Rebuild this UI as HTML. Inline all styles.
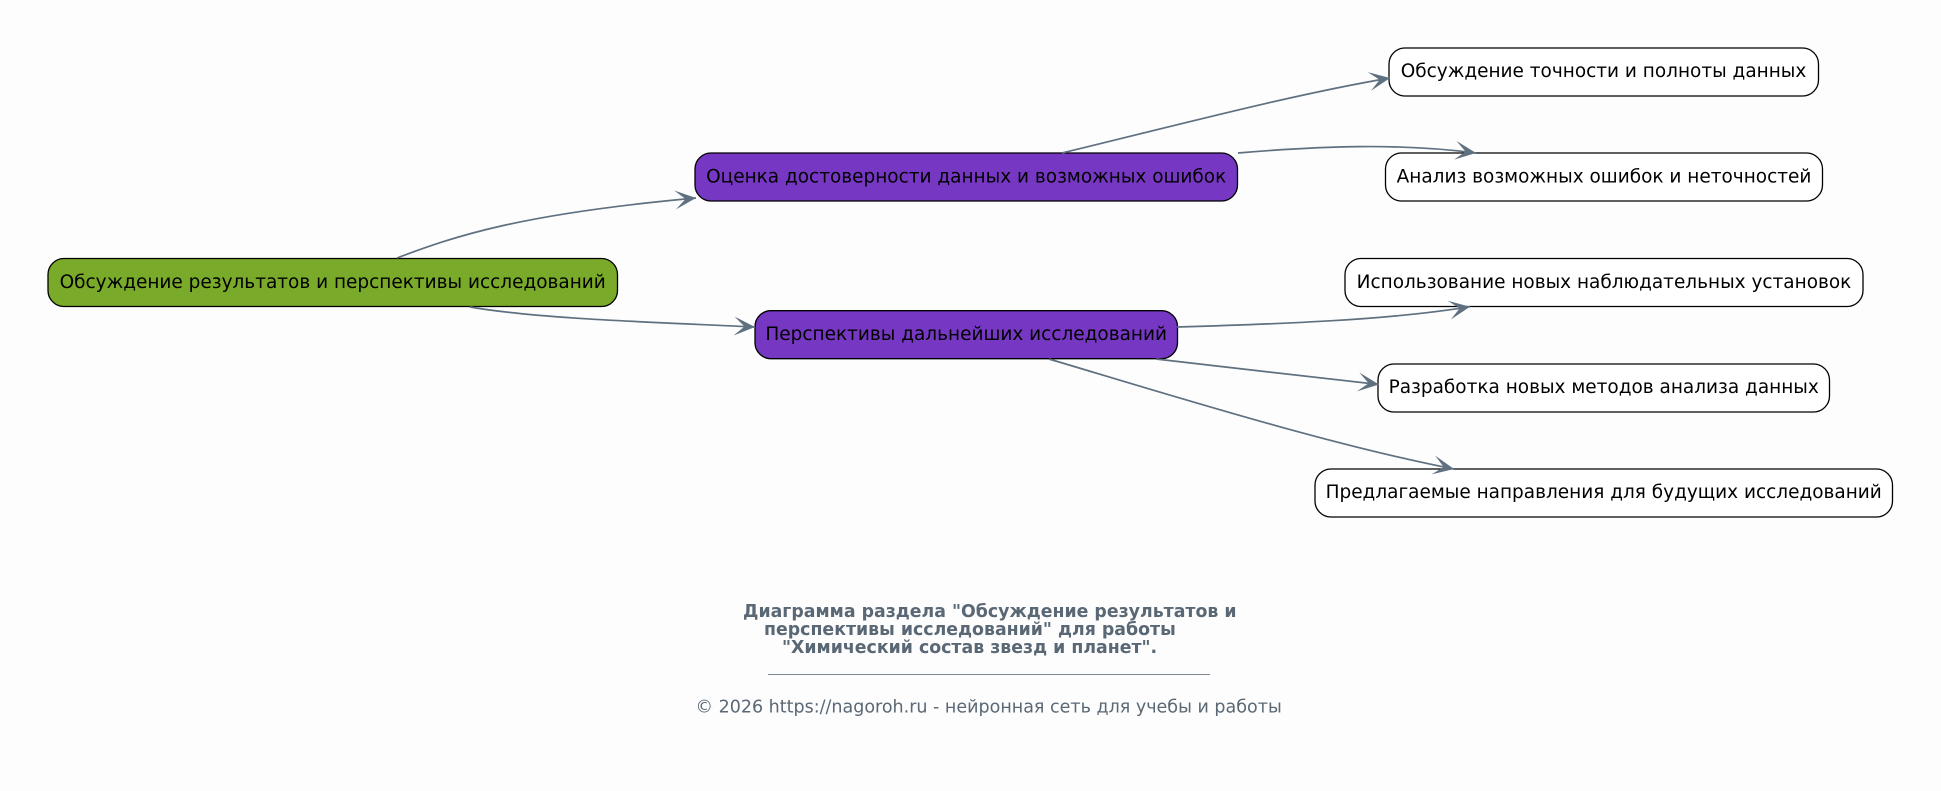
<!DOCTYPE html>
<html><head><meta charset="utf-8"><style>
html,body{margin:0;padding:0;background:#fdfdfd;width:1941px;height:791px;overflow:hidden}
svg{display:block}
text{font-family:"DejaVu Sans",sans-serif}
.n{font-size:18.48px;fill:#000;text-anchor:middle}
.t{font-size:17.35px;font-weight:bold;fill:#5a6875}
.c{font-size:17.5px;fill:#5a6875}
.e{fill:none;stroke:#5f7080;stroke-width:1.7;marker-end:url(#a)}
.b{stroke:#000;stroke-width:1.3}
</style></head><body>
<svg width="1941" height="791" viewBox="0 0 1941 791" xmlns="http://www.w3.org/2000/svg">
<defs><marker id="a" markerUnits="userSpaceOnUse" markerWidth="26" markerHeight="26" refX="21" refY="13" orient="auto" viewBox="0 0 26 26"><path d="M21 13L0 3.500L10.500 13L0 22.500Z" fill="#5f7080"/></marker></defs>
<rect width="1941" height="791" fill="#fdfdfd"/>
<rect class="b" x="48" y="258.500" width="569.500" height="48" rx="16" fill="#7aaa2a"/>
<rect class="b" x="695" y="153" width="542.500" height="48" rx="16" fill="#7637c3"/>
<rect class="b" x="755" y="310.700" width="422.500" height="48" rx="16" fill="#7637c3"/>
<rect class="b" x="1389" y="48" width="429.500" height="48" rx="16" fill="#fff"/>
<rect class="b" x="1385.500" y="153" width="437" height="48" rx="16" fill="#fff"/>
<rect class="b" x="1345" y="258.500" width="518" height="48" rx="16" fill="#fff"/>
<rect class="b" x="1378" y="364" width="451.500" height="48" rx="16" fill="#fff"/>
<rect class="b" x="1315" y="469" width="577.500" height="48" rx="16" fill="#fff"/>
<path class="e" d="M397 258C455 236 520 214 696 198"/>
<path class="e" d="M470 307C540 319 650 322 755 327"/>
<path class="e" d="M1062 153C1170 127 1290 95 1390 78"/>
<path class="e" d="M1238 153C1320 146 1400 143 1476 153"/>
<path class="e" d="M1177 327C1280 324 1390 320 1470 306.700"/>
<path class="e" d="M1156 359C1230 368 1310 376 1379 384.500"/>
<path class="e" d="M1049 359C1170 395 1330 445 1454 469"/>
<text class="n" x="332.700" y="288">Обсуждение результатов и перспективы исследований</text>
<text class="n" x="966.200" y="182.500">Оценка достоверности данных и возможных ошибок</text>
<text class="n" x="966.200" y="340">Перспективы дальнейших исследований</text>
<text class="n" x="1603.500" y="77">Обсуждение точности и полноты данных</text>
<text class="n" x="1604" y="182.500">Анализ возможных ошибок и неточностей</text>
<text class="n" x="1604" y="288">Использование новых наблюдательных установок</text>
<text class="n" x="1603.700" y="393">Разработка новых методов анализа данных</text>
<text class="n" x="1603.700" y="498">Предлагаемые направления для будущих исследований</text>
<text class="t" x="743" y="617">Диаграмма раздела "Обсуждение результатов и</text>
<text class="t" x="764" y="635">перспективы исследований" для работы</text>
<text class="t" x="782" y="653">"Химический состав звезд и планет".</text>
<line x1="768" y1="674.500" x2="1210" y2="674.500" stroke="#7d8894" stroke-width="1"/>
<text class="c" x="695.500" y="712.500">© 2026 https://nagoroh.ru - нейронная сеть для учебы и работы</text>
</svg>
</body></html>
